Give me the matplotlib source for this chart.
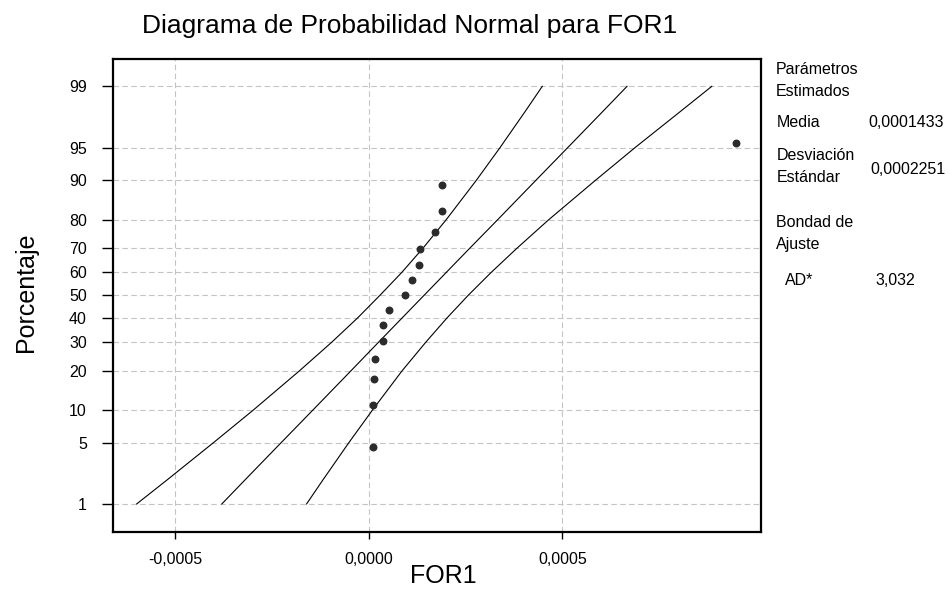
from statistics import NormalDist

import numpy as np
import matplotlib

matplotlib.use("Agg")
import matplotlib.pyplot as plt

# datos
for1 = [0.0000096, 0.0000096, 0.0000129, 0.0000155, 0.0000370, 0.0000370,
        0.0000525, 0.0000938, 0.0001119, 0.0001292, 0.0001318, 0.0001698,
        0.0001879, 0.0001879, 0.000948]
pct = [4.5, 11.0, 17.5, 24.0, 30.5, 37.0, 43.5, 50.0, 56.5, 63.0, 69.5,
       76.0, 82.5, 89.0, 95.5]

# recta ajustada y bandas de confianza
band_pct = [1, 2, 5, 10, 20, 30, 40, 50, 60, 70, 80, 90, 95, 98, 99]
fit_x = [-0.000380, -0.000319, -0.000227, -0.000145, -0.000046, 0.000025,
         0.000086, 0.000143, 0.000200, 0.000261, 0.000333, 0.000432,
         0.000514, 0.000606, 0.000667]
lower_x = [-0.000600, -0.000520, -0.000402, -0.000299, -0.000179, -0.000096,
           -0.000029, 0.000029, 0.000085, 0.000140, 0.000200, 0.000278,
           0.000339, 0.000405, 0.000448]
upper_x = [-0.000161, -0.000118, -0.000052, 0.000009, 0.000086, 0.000147,
           0.000202, 0.000257, 0.000316, 0.000383, 0.000465, 0.000586,
           0.000688, 0.000807, 0.000886]

y_ticks = [1, 5, 10, 20, 30, 40, 50, 60, 70, 80, 90, 95, 99]
x_ticks = [-0.0005, 0.0, 0.0005]
x_labels = ["-0,0005", "0,0000", "0,0005"]

_nd = NormalDist()
_inv = np.vectorize(_nd.inv_cdf, otypes=[float])
_cdf = np.vectorize(_nd.cdf, otypes=[float])


def p_to_z(p):
    p = np.clip(np.asarray(p, dtype=float) / 100.0, 1e-9, 1 - 1e-9)
    return _inv(p)


def z_to_p(z):
    return _cdf(np.asarray(z, dtype=float)) * 100.0


plt.rcParams.update({"font.family": ["Liberation Sans", "DejaVu Sans"]})

fig = plt.figure(figsize=(9.5, 5.9), dpi=100)
ax = fig.add_axes([0.1186, 0.0988, 0.6824, 0.8007])
ax.set_yscale("function", functions=(p_to_z, z_to_p))

ax.plot(fit_x, band_pct, color="black", lw=0.8)
ax.plot(lower_x, band_pct, color="black", lw=0.8)
ax.plot(upper_x, band_pct, color="black", lw=0.8)
ax.scatter(for1, pct, s=22, color="#2b2b2b", zorder=3)

ax.set_xlim(-0.000662, 0.001013)
ax.set_ylim(0.42, 99.57)
ax.set_yticks(y_ticks)
ax.set_yticklabels([str(t) for t in y_ticks])
ax.set_xticks(x_ticks)
ax.set_xticklabels(x_labels)
ax.minorticks_off()

ax.grid(True, color="#c4c4c4", linestyle=(0, (5, 3)), lw=0.8)
ax.tick_params(axis="y", length=8, width=1, pad=10.5, labelsize=11.5)
ax.tick_params(axis="x", length=5, width=1, pad=9.5, labelsize=11.5)
for sp in ax.spines.values():
    sp.set_linewidth(1.6)

fig.text(141.7 / 950, 1 - 33 / 590, "Diagrama de Probabilidad Normal para FOR1",
         fontsize=19, ha="left", va="baseline")
fig.text(443 / 950, 1 - 576 / 590, "FOR1", fontsize=18, ha="center", va="center")
fig.text(26 / 950, 1 - 292 / 590, "Porcentaje", fontsize=18, rotation=90,
         ha="center", va="center")

# panel de parametros
panel = [
    (776, 70, "Parámetros"),
    (776, 92, "Estimados"),
    (777, 123, "Media"),
    (868, 123, "0,0001433"),
    (777, 155, "Desviación"),
    (777, 178, "Estándar"),
    (870, 170, "0,0002251"),
    (776, 223, "Bondad de"),
    (776, 245, "Ajuste"),
    (785, 280, "AD*"),
    (875, 280, "3,032"),
]
for px, py, s in panel:
    fig.text(px / 950, 1 - py / 590, s, fontsize=11.5, ha="left", va="center")

fig.savefig("out.png", dpi=100)
